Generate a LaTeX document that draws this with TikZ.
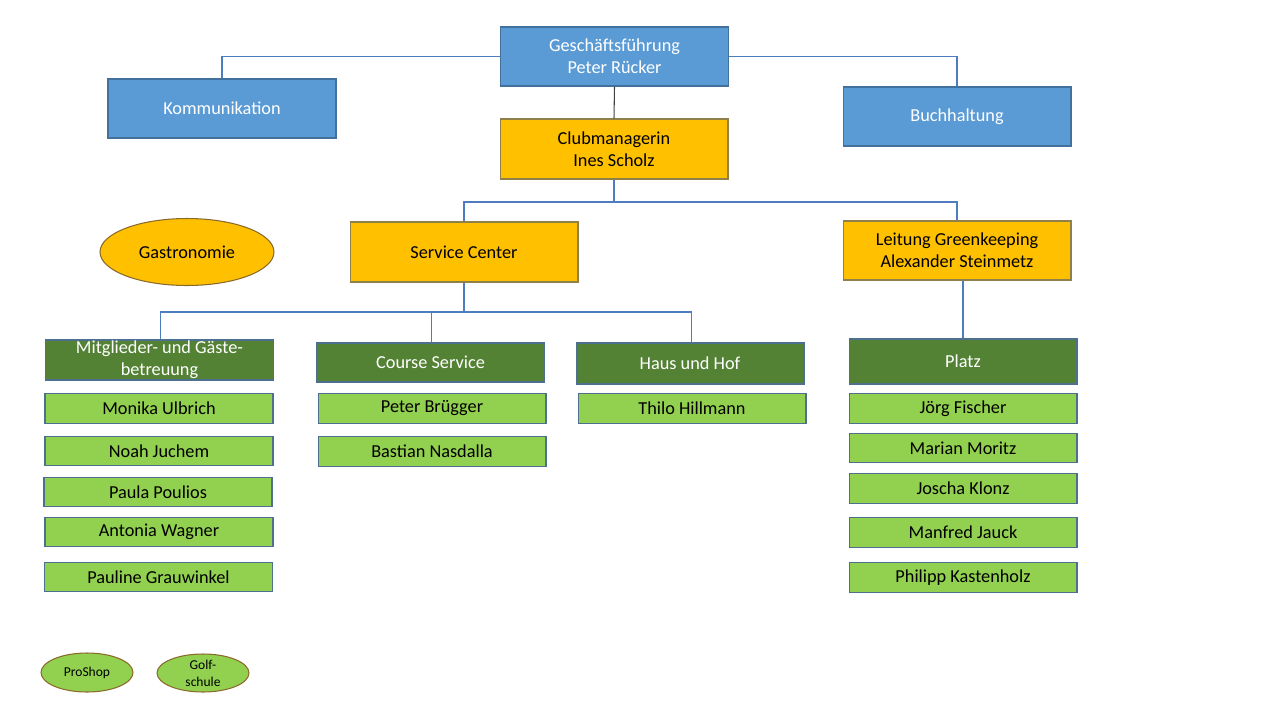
\documentclass[tikz,border=0pt]{standalone}
\usepackage{fontspec}
\setmainfont{Carlito}
\usetikzlibrary{positioning,shapes.geometric}
\definecolor{leitblau}{HTML}{5B9BD5}
\definecolor{leitblaurand}{HTML}{41719C}
\definecolor{clubgelb}{HTML}{FFC000}
\definecolor{clubgelbrand}{HTML}{8F7F4A}
\definecolor{teamgruen}{HTML}{548235}
\definecolor{personengruen}{HTML}{92D050}
\definecolor{gruenrand}{HTML}{4E7090}
\definecolor{ovalrand}{HTML}{8A6A2A}
\definecolor{linienblau}{HTML}{4F7BC0}

\begin{document}
\begin{tikzpicture}[x=0.02cm,y=-0.02cm,
    font=\fontsize{10.4}{12.5}\selectfont,
    kasten/.style={draw, align=center, inner sep=0pt, minimum width=4.56cm, line width=0.6pt},
    blaukasten/.style={kasten, fill=leitblau, draw=leitblaurand, text=white, minimum height=1.18cm},
    gelbkasten/.style={kasten, fill=clubgelb, draw=clubgelbrand, minimum height=1.2cm},
    teamkasten/.style={kasten, fill=teamgruen, draw=gruenrand, text=white, minimum height=0.8cm},
    personkasten/.style={kasten, fill=personengruen, draw=gruenrand, minimum height=0.59cm},
    oval/.style={ellipse, draw=ovalrand, inner sep=0pt, align=center, line width=0.6pt},
    kleinoval/.style={oval, fill=personengruen, minimum width=1.84cm, font=\fontsize{7.7}{9.8}\selectfont},
    verbinder/.style={draw=linienblau, line width=0.6pt}]
      \useasboundingbox (0,0) rectangle (1280,720);
      % Leitung
      \node[blaukasten] (gf) at (614.5,56.5) {Geschäftsführung\\Peter Rücker};
      \node[blaukasten] (komm) at (222,108.5) {Kommunikation};
      \node[blaukasten] (buch) at (957,116.5) {Buchhaltung};
      \node[gelbkasten] (club) at (614,149) {Clubmanagerin\\Ines Scholz};
      \node[gelbkasten] (sc) at (464,252) {Service Center};
      \node[gelbkasten, minimum height=1.18cm] (lg) at (957,250.5) {Leitung Greenkeeping\\Alexander Steinmetz};
      \node[oval, fill=clubgelb, minimum width=3.48cm, minimum height=1.34cm] (gastro) at (187,252) {Gastronomie};
      % Teams
      \node[teamkasten] (mg) at (159.5,360) {Mitglieder- und Gäste-\\betreuung};
      \node[teamkasten, minimum height=0.78cm] (cs) at (430.5,362.5) {Course Service};
      \node[teamkasten, minimum height=0.82cm] (hh) at (690,363.5) {Haus und Hof};
      \node[teamkasten, minimum height=0.9cm] (platz) at (963,361.5) {Platz};
      % Personen
      \node[personkasten] (monika) at (159,408.5) {Monika Ulbrich};
      \node[personkasten] (noah) at (159,451) {Noah Juchem};
      \node[personkasten] (paula) at (158,492) {Paula Poulios};
      \node[personkasten] (antonia) at (159,532) {Antonia Wagner};
      \node[personkasten] (pauline) at (158.5,577) {Pauline Grauwinkel};
      \node[personkasten] (peter) at (432,408.5) {Peter Brügger};
      \node[personkasten] (bastian) at (432,451.5) {Bastian Nasdalla};
      \node[personkasten] (thilo) at (692,408.5) {Thilo Hillmann};
      \node[personkasten] (joerg) at (963,408.5) {Jörg Fischer};
      \node[personkasten] (marian) at (963,448) {Marian Moritz};
      \node[personkasten] (joscha) at (963,488.5) {Joscha Klonz};
      \node[personkasten] (manfred) at (963,532.5) {Manfred Jauck};
      \node[personkasten] (philipp) at (963,577.5) {Philipp Kastenholz};
      % kleine Ovale
      \node[kleinoval, minimum height=0.78cm] (proshop) at (87,672.5) {ProShop};
      \node[kleinoval, minimum height=0.76cm] (golf) at (203,673) {Golf-\\schule};
      % Linien
      \coordinate (knotenclub) at (614,202);
      \coordinate (knotensc) at (464,312);
      \draw[verbinder] (gf.west) -| (komm.north);
      \draw[verbinder] (gf.east) -| (buch.north);
      \draw[line width=0.6pt, draw=black!75] (gf.south) -- (club.north);
      \draw[verbinder] (club.south) -- (knotenclub) -| (sc.north);
      \draw[verbinder] (knotenclub) -| (lg.north);
      \draw[verbinder] (sc.south) -- (knotensc) -| ([xshift=0.5]mg.north);
      \draw[verbinder] (knotensc) -| ([xshift=0.5]cs.north);
      \draw[verbinder] (knotensc) -| ([xshift=1]hh.north);
      \draw[verbinder] (platz.north) -- (platz.north |- lg.south);
    \end{tikzpicture}
\end{document}
